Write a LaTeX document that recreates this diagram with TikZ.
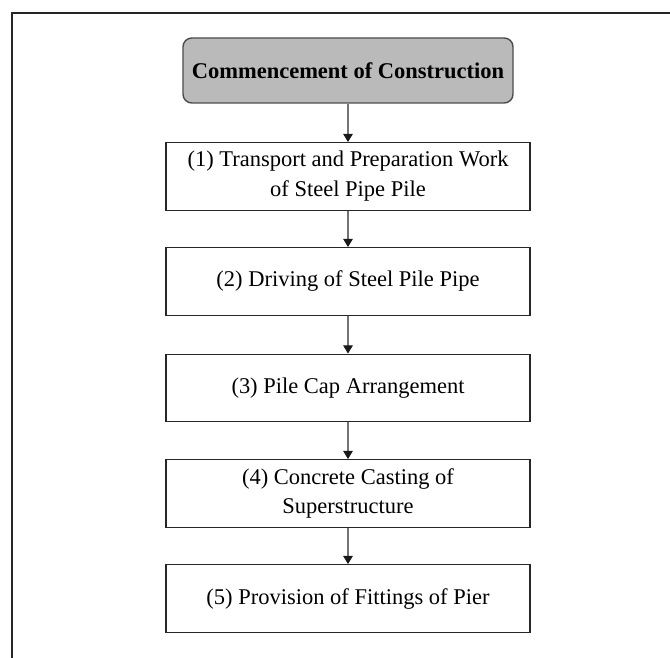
\documentclass[tikz,border=0pt]{standalone}
\usepackage{fontspec}
\setmainfont{Liberation Serif}
\usepackage{tikz}
\usetikzlibrary{arrows.meta}

\begin{document}
\begin{tikzpicture}[
  every node/.style={font=\fontsize{12.8}{17}\selectfont},
  b/.style={draw=black!85,line width=0.8pt,minimum width=7.28cm,minimum height=1.35cm,align=center,fill=white},
  s/.style={draw=black!70,line width=0.8pt,rounded corners=5pt,fill=black!27,minimum width=6.6cm,minimum height=1.3cm,font=\fontsize{12.8}{17}\selectfont\bfseries},
  e/.style={-{Triangle[width=5.4pt,length=4.6pt,color=black!90]},draw=black!55,line width=0.6pt}]
 \useasboundingbox (0,0) rectangle (13.4,-13.14);
 \draw[line width=1.1pt,black!85] (0.24,-13.3) -- (0.24,-0.26) -- (13.6,-0.26);
 \node[s] (st) at (6.96,-1.41) {Commencement of Construction};
 \node[b] (s1) at (6.96,-3.53) {(1) Transport and Preparation Work\\ of Steel Pipe Pile};
 \node[b] (s2) at (6.96,-5.63) {(2) Driving of Steel Pile Pipe};
 \node[b] (s3) at (6.96,-7.76) {(3) Pile Cap Arrangement};
 \node[b] (s4) at (6.96,-9.87) {(4) Concrete Casting of\\ Superstructure};
 \node[b] (s5) at (6.96,-11.97) {(5) Provision of Fittings of Pier};
 \draw[e] (st) -- (s1); \draw[e] (s1) -- (s2); \draw[e] (s2) -- (s3); \draw[e] (s3) -- (s4); \draw[e] (s4) -- (s5);
\end{tikzpicture}
\end{document}
